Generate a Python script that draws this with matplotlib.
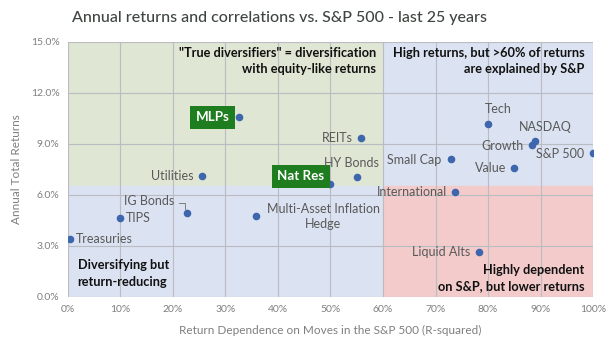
import matplotlib
matplotlib.use("Agg")
import matplotlib.pyplot as plt
from matplotlib.patches import Rectangle
from matplotlib.ticker import PercentFormatter

plt.rcParams['font.family'] = ['Lato', 'DejaVu Sans']

# asset classes: R-squared vs S&P 500 (%), annual total return (%)
names = ["Treasuries", "TIPS", "IG Bonds", "Multi-Asset Inflation\nHedge", "Utilities",
         "MLPs", "Nat Res", "HY Bonds", "REITs", "Small Cap", "International",
         "Tech", "Value", "Growth", "NASDAQ", "S&P 500", "Liquid Alts"]
r_squared = [0.4, 10.0, 22.7, 35.9, 25.6, 32.6, 50.0, 55.1, 55.8, 73.0, 73.7,
             79.9, 85.0, 88.3, 89.0, 99.9, 78.2]
returns = [3.43, 4.65, 4.92, 4.76, 7.14, 10.57, 6.65, 7.04, 9.37, 8.10, 6.16,
           10.18, 7.61, 8.94, 9.18, 8.45, 2.65]

# quadrant split
x_split = 60
y_split = 6.5

fig = plt.figure(figsize=(6.16, 3.49), dpi=100)
ax = fig.add_axes([0.110, 0.149, 0.853, 0.731])

ax.add_patch(Rectangle((0, y_split), x_split, 15 - y_split, color="#dfe6d4", zorder=0))
ax.add_patch(Rectangle((0, 0), x_split, y_split, color="#dbe2f1", zorder=0))
ax.add_patch(Rectangle((x_split, y_split), 100 - x_split, 15 - y_split, color="#dbe2f1", zorder=0))
ax.add_patch(Rectangle((x_split, 0), 100 - x_split, y_split, color="#f3cbcb", zorder=0))

ax.set_xlim(0, 100)
ax.set_ylim(0, 15)
ax.set_xticks(range(0, 101, 10))
ax.set_yticks([0, 3, 6, 9, 12, 15])
ax.xaxis.set_major_formatter(PercentFormatter(decimals=0))
ax.yaxis.set_major_formatter(PercentFormatter(decimals=1))
ax.grid(True, color="#b9bdc2", linewidth=0.8, zorder=1)
ax.set_axisbelow(False)
for s in ax.spines.values():
    s.set_visible(False)
ax.tick_params(length=0, labelsize=7.5, labelcolor="#7f7f7f", pad=6)

ax.scatter(r_squared, returns, s=20, color="#3e66ad", zorder=3)

# label offsets in points, alignment
lab = {
    "Treasuries": (4, 0, "left"),
    "TIPS": (4, 0, "left"),
    "IG Bonds": (-9, 9, "right"),
    "Multi-Asset Inflation\nHedge": (48, -0.5, "center"),
    "Utilities": (-6, 0, "right"),
    "HY Bonds": (-4, 10, "center"),
    "REITs": (-6, 0, "right"),
    "Small Cap": (-7, -0.5, "right"),
    "International": (-6, 0, "right"),
    "Tech": (-2, 11, "left"),
    "Value": (-6, 0, "right"),
    "Growth": (-6, -0.5, "right"),
    "NASDAQ": (-12, 10, "left"),
    "S&P 500": (-6, -0.5, "right"),
    "Liquid Alts": (-6, 0, "right"),
}
for n, x, y in zip(names, r_squared, returns):
    if n in ("MLPs", "Nat Res"):
        ax.annotate(n, (x, y), xytext=(-7, 0) if n == "MLPs" else (-4.5, 5.5),
                    textcoords="offset points", ha="right", va="center",
                    fontsize=9.6, fontweight="bold", color="white", zorder=4,
                    bbox=dict(boxstyle="square,pad=0.4", fc="#1e7d1e", ec="none"))
        continue
    dx, dy, ha = lab[n]
    ax.annotate(n, (x, y), xytext=(dx, dy), textcoords="offset points",
                ha=ha, va="center", fontsize=9, color="#595959", zorder=4,
                multialignment="center", linespacing=1.35)

# leader line for IG Bonds
ax.plot([r_squared[2] - 1.6, r_squared[2] - 0.3, r_squared[2] - 0.3],
        [returns[2] + 0.6, returns[2] + 0.6, returns[2] + 0.25],
        color="#7f7f7f", linewidth=0.7, zorder=3)

cap = dict(fontsize=9.2, fontweight="bold", color="#111111", zorder=4, linespacing=1.45)
ax.text(58.7, 14.7, '"True diversifiers" = diversification\nwith equity-like returns',
        ha="right", va="top", **cap)
ax.text(98.3, 14.7, "High returns, but >60% of returns\nare explained by S&P",
        ha="right", va="top", **cap)
ax.text(1.9, 1.38, "Diversifying but\nreturn-reducing", ha="left", va="center", **cap)
ax.text(98.3, 1.12, "Highly dependent\non S&P, but lower returns", ha="right", va="center", **cap)

ax.set_xlabel("Return Dependence on Moves in the S&P 500 (R-squared)", fontsize=8.5,
              color="#7f7f7f", labelpad=8)
ax.set_ylabel("Annual Total Returns", fontsize=8.5, color="#7f7f7f", labelpad=6)
fig.text(0.453, 0.948, "Annual returns and correlations vs. S&P 500 - last 25 years",
         ha="center", va="center", fontsize=11.5, color="#3f4540", fontweight="medium")

fig.savefig("out.png", dpi=100)
